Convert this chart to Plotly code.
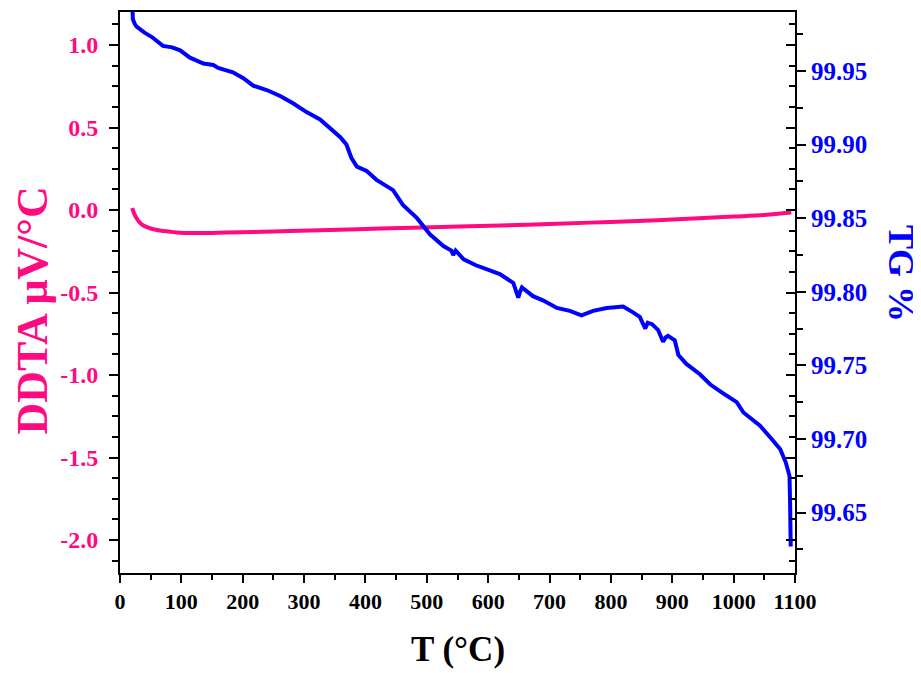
import plotly.graph_objects as go

# ---- data ----
ddta_T = [20, 21, 24, 27, 32, 38, 50, 65, 80, 92, 119, 150, 174, 250, 310, 400, 494, 619, 700, 800, 900, 1000, 1050, 1094]
ddta_V = [0.012, 0.0, -0.03, -0.05, -0.075, -0.094, -0.112, -0.124, -0.131, -0.136, -0.140, -0.139, -0.137, -0.131, -0.124, -0.115, -0.106, -0.094, -0.085, -0.072, -0.058, -0.040, -0.030, -0.015]

tg_T = [20, 21, 24, 27, 40, 52, 70, 85, 98, 114, 136, 152, 160, 168, 184, 201, 217, 239, 261, 282, 304,
        326, 342, 359, 369, 377, 386, 402, 418, 435, 445, 461, 484, 505, 527, 540, 543, 547, 560, 580,
        600, 619, 641, 646, 649, 652, 655, 673, 690, 712, 733, 752, 771, 793, 820, 836, 847, 856, 860,
        867, 877, 885, 889, 893, 904, 910, 923, 945, 962, 983, 1005, 1016, 1043, 1062, 1076, 1085,
        1091, 1092, 1093]
tg_W = [99.995, 99.985, 99.982, 99.980, 99.976, 99.973, 99.967, 99.966, 99.964, 99.959, 99.955, 99.954, 99.952,
        99.951, 99.949, 99.945, 99.940, 99.937, 99.933, 99.928, 99.922,
        99.917, 99.911, 99.905, 99.900, 99.891, 99.885, 99.882, 99.876, 99.872, 99.869, 99.859, 99.850,
        99.839, 99.831, 99.828, 99.825, 99.828, 99.822, 99.818,
        99.815, 99.812, 99.806, 99.800, 99.796, 99.800, 99.803, 99.797, 99.794, 99.789, 99.787, 99.784,
        99.787, 99.789, 99.790, 99.786, 99.783, 99.775, 99.779, 99.778, 99.774, 99.766, 99.769, 99.770,
        99.767, 99.757, 99.751, 99.744, 99.737, 99.731, 99.725, 99.718, 99.709, 99.700, 99.693, 99.684,
        99.675, 99.657, 99.627]

x_ticks = [0, 100, 200, 300, 400, 500, 600, 700, 800, 900, 1000, 1100]
x_labels = [str(v) for v in x_ticks]
ddta_ticks = [1.0, 0.5, 0.0, -0.5, -1.0, -1.5, -2.0]
ddta_labels = ["1.0", "0.5", "0.0", "-0.5", "-1.0", "-1.5", "-2.0"]
tg_ticks = [99.95, 99.90, 99.85, 99.80, 99.75, 99.70, 99.65]
tg_labels = ["99.95", "99.90", "99.85", "99.80", "99.75", "99.70", "99.65"]

PINK = "#FF0A80"
BLUE = "#0000FF"
FONT = "Liberation Serif"

fig = go.Figure()
fig.add_trace(go.Scatter(x=ddta_T, y=ddta_V, mode="lines", line=dict(color=PINK, width=4, shape="spline"),
                         yaxis="y", showlegend=False))
fig.add_trace(go.Scatter(x=tg_T, y=tg_W, mode="lines", line=dict(color=BLUE, width=4),
                         yaxis="y2", showlegend=False))
# dummy trace to activate yaxis3 (inward mirrored DDTA ticks on the right)
fig.add_trace(go.Scatter(x=[None], y=[None], yaxis="y3", showlegend=False, hoverinfo="skip"))

axis_common = dict(showgrid=False, zeroline=False, showline=True, linecolor="black", linewidth=2,
                   tickcolor="black", tickwidth=2)

fig.update_layout(
    width=913, height=665,
    margin=dict(l=112, r=126, t=2, b=100),
    paper_bgcolor="white", plot_bgcolor="white",
    xaxis=dict(range=[0, 1100], tickvals=x_ticks, ticktext=x_labels, ticks="outside", ticklen=8,
               mirror=True,
               tickfont=dict(family=FONT, size=22, color="black", weight="bold"),
               minor=dict(dtick=50, tick0=0, ticks="outside", ticklen=5, tickwidth=2, tickcolor="black"),
               **axis_common),
    yaxis=dict(range=[-2.2, 1.2], tickvals=ddta_ticks, ticktext=ddta_labels, ticks="outside", ticklen=9,
               ticklabelstandoff=6,
               tickfont=dict(family=FONT, size=24, color=PINK, weight="bold"),
               minor=dict(dtick=0.125, tick0=0, ticks="outside", ticklen=6, tickwidth=2, tickcolor="black"),
               **axis_common),
    yaxis3=dict(range=[-2.2, 1.2], overlaying="y", side="right", tickvals=ddta_ticks, ticks="inside",
                ticklen=9, showticklabels=False,
                minor=dict(dtick=0.125, tick0=0, ticks="inside", ticklen=6, tickwidth=2, tickcolor="black"),
                **axis_common),
    yaxis2=dict(range=[99.609, 99.99], overlaying="y", side="right", tickvals=tg_ticks, ticktext=tg_labels,
                ticks="outside", ticklen=9,
                tickfont=dict(family=FONT, size=25, color=BLUE, weight="bold"),
                minor=dict(dtick=0.025, tick0=99.65, ticks="outside", ticklen=6, tickwidth=2, tickcolor="black"),
                **axis_common),
)

fig.add_annotation(text="<b>DDTA μV/°C</b>", xref="paper", yref="paper", x=-0.131, y=0.467,
                   textangle=-90, showarrow=False, font=dict(family=FONT, size=44, color=PINK),
                   xanchor="center", yanchor="middle")
fig.add_annotation(text="<b>TG %</b>", xref="paper", yref="paper", x=1.157, y=0.533,
                   textangle=90, showarrow=False, font=dict(family=FONT, size=36, color=BLUE),
                   xanchor="center", yanchor="middle")
fig.add_annotation(text="<b>T (°C)</b>", xref="paper", yref="paper", x=0.5, y=-0.136,
                   showarrow=False, font=dict(family=FONT, size=35, color="black"),
                   xanchor="center", yanchor="middle")

fig.write_html("out.html")
